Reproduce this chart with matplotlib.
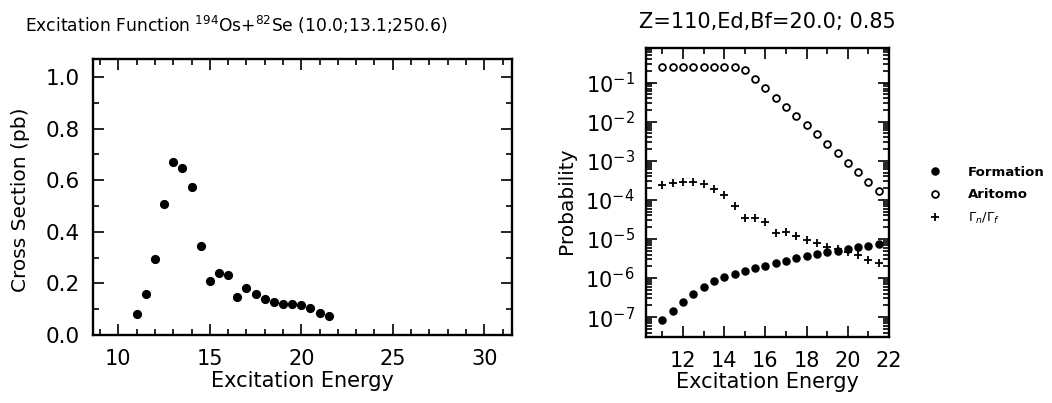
import numpy as np
import matplotlib
matplotlib.use("Agg")
import matplotlib.pyplot as plt
from matplotlib.ticker import MultipleLocator, LogLocator, NullFormatter, FormatStrFormatter

# excitation energies (same grid in both panels)
energy = [11.0, 11.5, 12.0, 12.5, 13.0, 13.5, 14.0, 14.5, 15.0, 15.5, 16.0,
          16.5, 17.0, 17.5, 18.0, 18.5, 19.0, 19.5, 20.0, 20.5, 21.0, 21.5]

# left panel: cross section (pb)
cross_section = [0.082, 0.160, 0.296, 0.507, 0.672, 0.646, 0.572, 0.346, 0.208, 0.242, 0.234,
                 0.147, 0.183, 0.160, 0.140, 0.128, 0.122, 0.122, 0.115, 0.104, 0.085, 0.075]

# right panel: probabilities
formation = [8.4e-8, 1.45e-7, 2.38e-7, 3.88e-7, 5.98e-7, 8.36e-7, 1.04e-6, 1.24e-6, 1.51e-6, 1.76e-6, 2.06e-6,
             2.37e-6, 2.77e-6, 3.18e-6, 3.65e-6, 4.10e-6, 4.62e-6, 5.00e-6, 5.51e-6, 6.08e-6, 6.71e-6, 7.55e-6]
aritomo = [0.257, 0.257, 0.257, 0.257, 0.257, 0.257, 0.257, 0.257, 0.216, 0.122, 0.0717,
           0.0414, 0.0243, 0.0140, 0.00826, 0.00476, 0.00269, 0.00155, 0.000895, 0.000507, 0.000292, 0.000172]
gn_gf = [2.40e-4, 2.65e-4, 2.81e-4, 2.92e-4, 2.55e-4, 1.86e-4, 1.33e-4, 6.96e-5, 3.37e-5, 3.37e-5, 2.66e-5,
         1.44e-5, 1.53e-5, 1.19e-5, 9.37e-6, 7.70e-6, 6.33e-6, 5.41e-6, 4.71e-6, 3.87e-6, 2.88e-6, 2.46e-6]

left_title = r"Excitation Function $^{194}$Os+$^{82}$Se (10.0;13.1;250.6)"
right_title = "Z=110,Ed,Bf=20.0; 0.85"
legend_labels = ["Formation", "Aritomo", r"$\Gamma_n/\Gamma_f$"]

W, H = 1052, 403


def box(l, t, r, b):
    # pixel box -> figure fraction
    return [l / W, 1 - b / H, (r - l) / W, (b - t) / H]


def style_axes(ax):
    for sp in ax.spines.values():
        sp.set_linewidth(1.7)
    ax.tick_params(which="both", direction="in", top=True, right=True, width=1.2)
    ax.tick_params(which="major", length=8)
    ax.tick_params(which="minor", length=4)


fig = plt.figure(figsize=(W / 100, H / 100), dpi=100)

# ---- left panel
ax1 = fig.add_axes(box(92.7, 59, 511.7, 335))
ax1.plot(energy, cross_section, "o", color="black", ms=5.6)
ax1.set_xlim(8.6, 31.5)
ax1.set_ylim(0, 1.07)
ax1.xaxis.set_major_locator(MultipleLocator(5))
ax1.xaxis.set_minor_locator(MultipleLocator(1))
ax1.yaxis.set_major_locator(MultipleLocator(0.2))
ax1.yaxis.set_minor_locator(MultipleLocator(0.1))
ax1.yaxis.set_major_formatter(FormatStrFormatter("%.1f"))
style_axes(ax1)
ax1.tick_params(axis="x", labelsize=15, pad=10)
ax1.tick_params(axis="y", labelsize=15.5, pad=9)
ax1.set_xlabel("Excitation Energy", fontsize=15)
ax1.xaxis.set_label_coords(0.5, -0.13)
ax1.set_ylabel("Cross Section (pb)", fontsize=14.5)
ax1.yaxis.set_label_coords(-0.15, 0.49)
fig.text(236 / W, 1 - 25 / H, left_title, fontsize=12.3, ha="center", va="center")

# ---- right panel
ax2 = fig.add_axes(box(646, 48, 889, 337))
ax2.set_yscale("log")
ax2.plot(energy, formation, "o", color="black", ms=5.1, label=legend_labels[0])
ax2.plot(energy, aritomo, "o", mfc="white", mec="black", mew=1.3, ms=4.9, label=legend_labels[1])
ax2.plot(energy, gn_gf, "+", color="black", mew=1.3, ms=5.5, label=legend_labels[2])
ax2.set_xlim(10.2, 22.0)
ax2.set_ylim(3.1e-8, 0.77)
ax2.xaxis.set_major_locator(MultipleLocator(2))
ax2.xaxis.set_minor_locator(MultipleLocator(1))
ax2.yaxis.set_major_locator(LogLocator(base=10, numticks=20))
ax2.yaxis.set_minor_locator(LogLocator(base=10, subs=np.arange(2, 10), numticks=20))
ax2.yaxis.set_minor_formatter(NullFormatter())
style_axes(ax2)
ax2.tick_params(axis="x", labelsize=15, pad=10)
ax2.tick_params(axis="y", labelsize=15, pad=8)
ax2.set_xlabel("Excitation Energy", fontsize=15)
ax2.xaxis.set_label_coords(0.5, -0.12)
ax2.set_ylabel("Probability", fontsize=14.5)
ax2.yaxis.set_label_coords(-0.29, 0.47)
fig.text(767 / W, 1 - 22 / H, right_title, fontsize=15, ha="center", va="center")

fig.legend(loc="upper left", bbox_to_anchor=(928 / W, 1 - 166 / H), frameon=False,
           prop={"size": 9.5, "weight": "bold"}, handlelength=1.0, handletextpad=2.0,
           labelspacing=0.7, borderpad=0, borderaxespad=0, markerscale=1.0)

fig.savefig("out.png", dpi=100)
